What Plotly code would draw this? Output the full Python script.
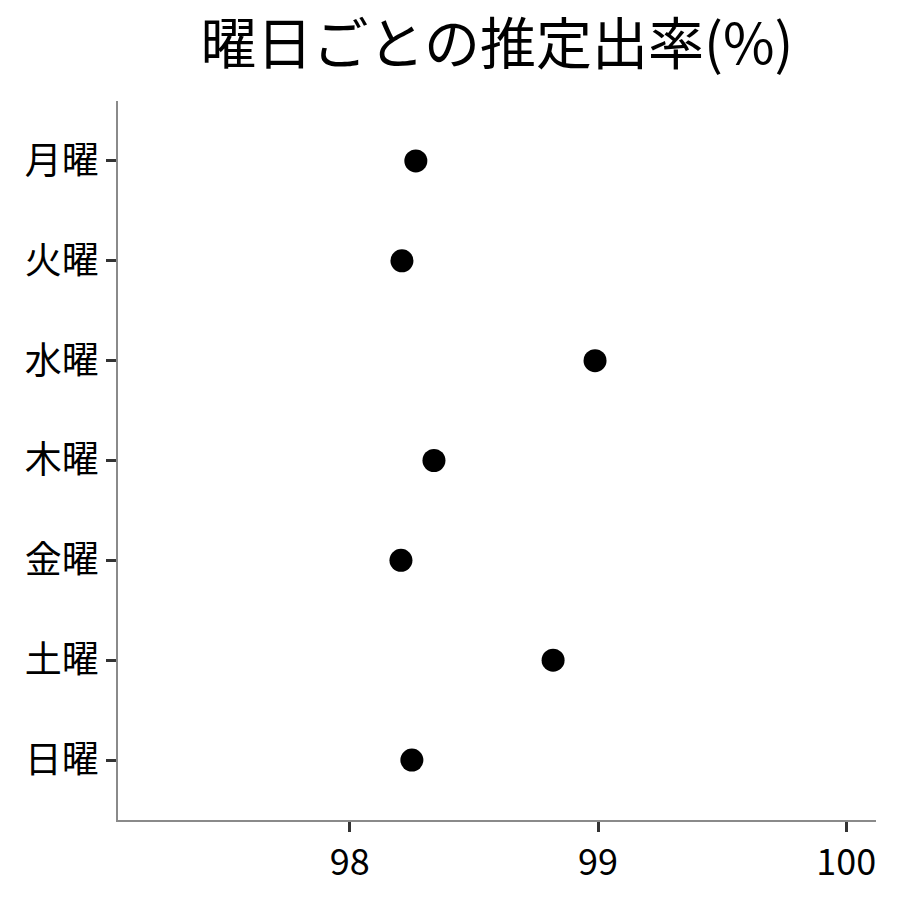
import plotly.graph_objects as go

# 曜日ごとの推定出率
days = ["月曜", "火曜", "水曜", "木曜", "金曜", "土曜", "日曜"]
rate = [98.266, 98.21, 98.988, 98.339, 98.206, 98.819, 98.25]

x_ticks = [98, 99, 100]

FONT = "Noto Sans CJK JP"

fig = go.Figure()
fig.add_trace(go.Scatter(
    x=rate, y=days,
    mode="markers",
    marker=dict(color="black", size=23),
    hoverinfo="x+y",
    showlegend=False
))

fig.update_layout(
    width=900, height=900,
    margin=dict(l=110, r=32, t=93, b=88),
    plot_bgcolor="white",
    paper_bgcolor="white",
    font=dict(family=FONT, color="black"),
    title=dict(
        text="曜日ごとの推定出率(%)",
        font=dict(size=56, family=FONT, color="black"),
        x=0.5, xref="paper", xanchor="center",
        y=0.96, yref="container", yanchor="middle"
    )
)

fig.update_xaxes(
    range=[97.066, 100.12],
    tickvals=x_ticks,
    ticktext=[str(v) for v in x_ticks],
    showgrid=False, zeroline=False,
    showline=True, linecolor="#8a8a8a", linewidth=1.5,
    ticks="outside", ticklen=10, tickwidth=3, tickcolor="#333333",
    tickfont=dict(size=36, family=FONT, color="black")
)
fig.update_yaxes(
    categoryorder="array", categoryarray=days,
    range=[6.6, -0.6],
    showgrid=False, zeroline=False,
    showline=True, linecolor="#8a8a8a", linewidth=1.5,
    ticks="outside", ticklen=10, tickwidth=3, tickcolor="#333333",
    tickfont=dict(size=37, family=FONT, color="black")
)

fig.write_html("out.html")
